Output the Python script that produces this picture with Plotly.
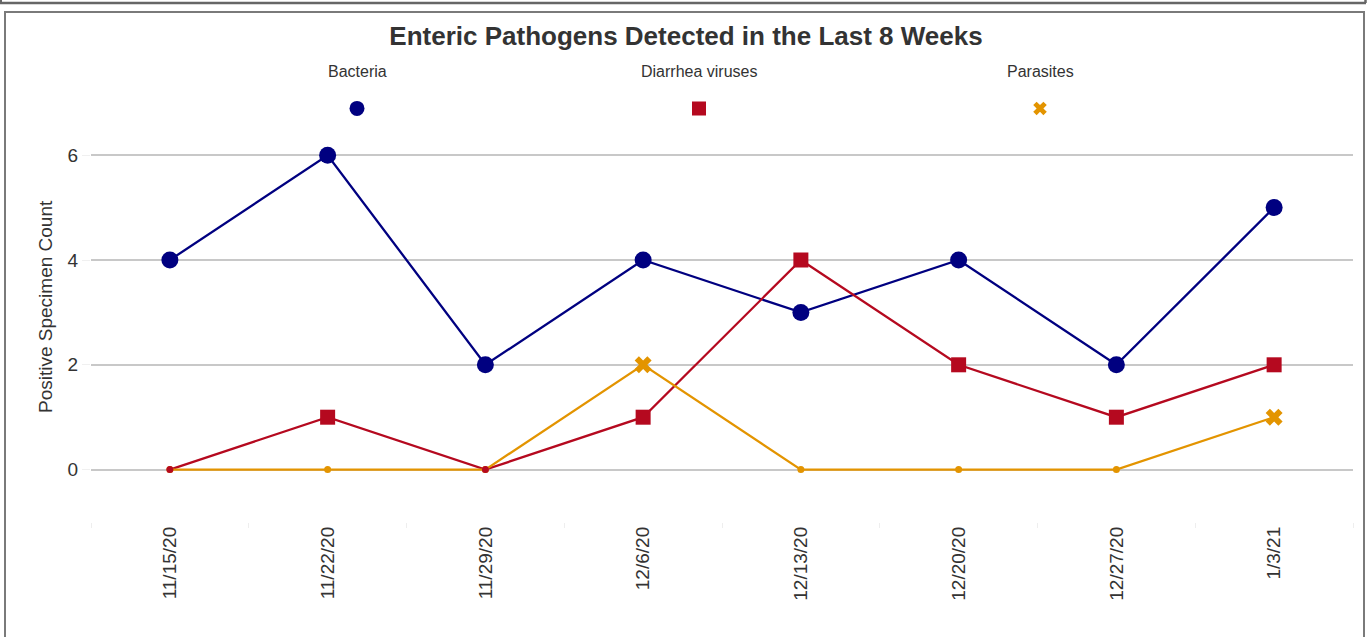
import plotly.graph_objects as go

weeks = ["11/15/20", "11/22/20", "11/29/20", "12/6/20", "12/13/20", "12/20/20", "12/27/20", "1/3/21"]
bacteria = [4, 6, 2, 4, 3, 4, 2, 5]
diarrhea_viruses = [0, 1, 0, 1, 4, 2, 1, 2]
parasites = [0, 0, 0, 2, 0, 0, 0, 1]

series = [
    ("Bacteria", bacteria, "#000080", "circle", 17),
    ("Diarrhea viruses", diarrhea_viruses, "#b5091f", "square", 15),
    ("Parasites", parasites, "#e39400", "x", 15),
]

W, H = 1369, 637
PL, PR, PT, PB = 91, 1353, 90, 522   # outer plotting region (pixels)
MAIN_TOP = 129                       # top of main axis region

fig = go.Figure()

for name, vals, color, sym, sz in series:
    fig.add_trace(go.Scatter(x=weeks, y=vals, mode="lines", name=name,
                             line=dict(color=color, width=2.3),
                             showlegend=False, hoverinfo="skip"))

for name, vals, color, sym, sz in reversed(series):
    sizes = [sz if v != 0 else 7 for v in vals]
    symbols = [sym if v != 0 else "circle" for v in vals]
    fig.add_trace(go.Scatter(x=weeks, y=vals, mode="markers", name=name,
                             marker=dict(color=color, size=sizes, symbol=symbols,
                                         opacity=1, line=dict(width=0)),
                             showlegend=False))

def px(x):
    return (x - PL) / (PR - PL)
def py(y):
    return (PB - y) / (PB - PT)

# custom legend: label above marker
legend_x = [357, 699, 1040]
legend_sizes = [15, 14, 12]
for (name, vals, color, sym, sz), lx, ls in zip(series, legend_x, legend_sizes):
    xv = px(lx)
    fig.add_trace(go.Scatter(x=[xv], y=[0.5], mode="markers", xaxis="x2", yaxis="y2",
                             marker=dict(color=color, size=ls, symbol=sym, opacity=1,
                                         line=dict(width=0)),
                             showlegend=False, hoverinfo="skip"))
    fig.add_annotation(x=xv, y=py(71), xref="paper", yref="paper", text=name,
                       showarrow=False, font=dict(size=16, color="#333333"),
                       xanchor="center", yanchor="middle")

# y-axis title
fig.add_annotation(x=px(45), y=py(307), xref="paper", yref="paper",
                   text="Positive Specimen Count", textangle=-90, showarrow=False,
                   font=dict(size=19, color="#333333"), xanchor="center", yanchor="middle")

main_dom_top = (PB - MAIN_TOP) / (PB - PT)
fig.update_layout(
    width=W, height=H,
    margin=dict(l=PL, r=W - PR, t=PT, b=H - PB),
    paper_bgcolor="white", plot_bgcolor="white",
    font=dict(family="Liberation Sans, Arial, sans-serif", color="#333333"),
    title=dict(text="<b>Enteric Pathogens Detected in the Last 8 Weeks</b>",
               x=686 / W, xanchor="center", y=1 - 36 / H, yanchor="middle",
               font=dict(size=26, color="#333333")),
    showlegend=False,
    xaxis=dict(type="category", range=[-0.5, 7.5], tickangle=-90, automargin=False,
               tickson="boundaries", ticks="outside", ticklen=5, tickcolor="#eeeeee",
               showgrid=False, showline=False, zeroline=False,
               tickfont=dict(size=19, color="#333333")),
    yaxis=dict(domain=[0, main_dom_top], range=[-1, 6.5], tickvals=[0, 2, 4, 6],
               showgrid=True, automargin=False,
               gridcolor="#c8c8c8", gridwidth=1.5, zeroline=False, showline=False,
               ticks="outside", ticklen=8, tickcolor="#f0f0f0",
               tickfont=dict(size=19, color="#333333")),
    xaxis2=dict(anchor="y2", range=[0, 1], visible=False, domain=[0, 1]),
    yaxis2=dict(anchor="x2", domain=[main_dom_top + 0.005, 1], range=[0, 1], visible=False),
)

fig.add_shape(type="rect", xref="paper", yref="paper",
              x0=px(5), x1=px(1364), y0=py(645), y1=py(12),
              line=dict(color="#7a7a7a", width=2), layer="below")
fig.add_shape(type="line", xref="paper", yref="paper",
              x0=px(0), x1=px(1366), y0=py(3), y1=py(3),
              line=dict(color="#666666", width=2.5))
fig.add_shape(type="line", xref="paper", yref="paper",
              x0=px(1365.5), x1=px(1365.5), y0=py(3), y1=py(-5),
              line=dict(color="#666666", width=2.5))
fig.add_shape(type="line", xref="paper", yref="paper",
              x0=px(1), x1=px(1), y0=py(3), y1=py(-5),
              line=dict(color="#666666", width=2))

fig.write_html("out.html", config={"displayModeBar": False},
               post_script="document.body.style.margin='0';document.body.style.overflow='hidden';")
